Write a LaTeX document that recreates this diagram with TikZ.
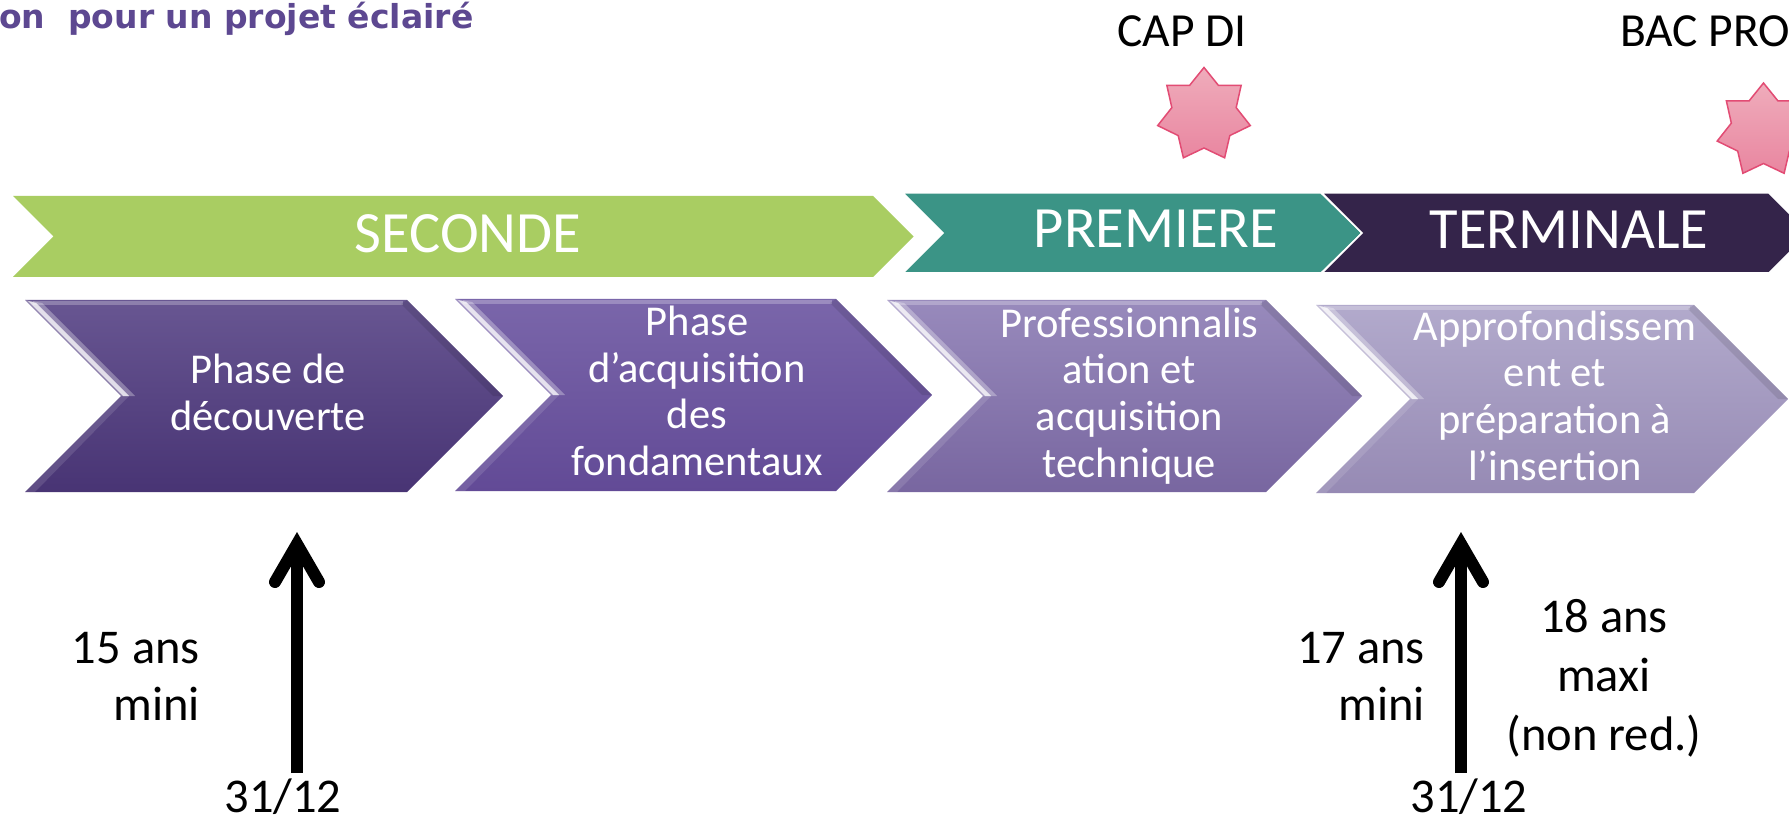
\documentclass[tikz,border=0pt]{standalone}
\usepackage{fontspec}
\setmainfont{Carlito}
\newfontfamily\titlefont{DejaVu Sans}
\usetikzlibrary{calc}
\definecolor{cgreen}{RGB}{169,205,98}
\definecolor{cteal}{RGB}{59,148,134}
\definecolor{cdark}{RGB}{52,36,74}
\definecolor{ctitle}{RGB}{93,72,145}
\definecolor{pAt}{RGB}{104,86,146}
\definecolor{pAb}{RGB}{72,52,116}
\definecolor{pBt}{RGB}{122,102,170}
\definecolor{pBb}{RGB}{98,74,150}
\definecolor{pCt}{RGB}{152,138,188}
\definecolor{pCb}{RGB}{120,102,160}
\definecolor{pDt}{RGB}{178,170,204}
\definecolor{pDb}{RGB}{150,138,180}
\definecolor{startop}{RGB}{239,172,187}
\definecolor{starbot}{RGB}{233,134,160}
\definecolor{starline}{RGB}{226,76,116}
\newcommand\ps{\rule[-0.25em]{0pt}{1em}}
% #1 x-left, #2 y-top, #3 width to tip, #4 height, #5 top colour, #6 bottom colour
\newcommand\chevron[6]{%
  \shade[top color=#5, bottom color=#6] (#1,#2) -- ++({#3-#4/2},0) -- ++({#4/2},{#4/2}) -- ++({-#4/2},{#4/2}) -- ++({-(#3-#4/2)},0) -- ++({#4/2},{-#4/2}) -- cycle;
  \fill[white,opacity=.3] (#1,#2) -- ++({#4/2},{#4/2}) -- ++(14,0) -- ++({-#4/2+3},{-#4/2+3}) -- cycle;
  \fill[white,opacity=.75] ({#1+3},{#2+1}) -- ++({#4/2-1},{#4/2-1}) -- ++(6,0) -- ++({-#4/2+3},{-#4/2+3}) -- cycle;
  \fill[white,opacity=.25] ({#1+8},{#2+1}) rectangle ({#1+#3-#4/2-4},{#2+5});
  \fill[black,opacity=.1] ({#1+#3-#4/2},#2) -- ({#1+#3},{#2+#4/2}) -- ++(-10,0) -- ({#1+#3-#4/2-6},{#2+4}) -- cycle;
  \fill[white,opacity=.12] ({#1+#4/2},{#2+#4/2}) -- (#1,{#2+#4}) -- ++(10,0) -- ({#1+#4/2+8},{#2+#4/2}) -- cycle;
}
\tikzset{
  banner/.style={text=white, font=\fontsize{58.5}{70}\selectfont, inner sep=0, anchor=base},
  phase/.style={text=white, font=\fontsize{42.5}{46.7}\selectfont, align=center, inner sep=0},
  lbl/.style={font=\fontsize{48.5}{57}\selectfont, inner sep=0},
  shaft/.style={line width=12pt, line cap=butt},
  headline/.style={line width=12pt, line cap=round, line join=miter},
  starstyle/.style={top color=startop, bottom color=starbot, draw=starline, line width=1.5pt}
}
\begin{document}
\begin{tikzpicture}[x=1pt,y=-1pt]
\fill[white] (0,0) rectangle (1789,818);
\useasboundingbox (0,0) rectangle (1789,818);
\clip (0,0) rectangle (1789,818);

% title
\node[anchor=base west, inner sep=0, text=ctitle, font=\titlefont\bfseries\fontsize{33}{40}\selectfont] (title) at (-1,29) {on\ \ pour un projet éclairé};

% stars and diplomas
\node[font=\fontsize{47.5}{57}\selectfont, anchor=base, inner sep=0] (cap) at (1182,47) {CAP DI};
\node[font=\fontsize{47.5}{57}\selectfont, anchor=base west, inner sep=0] (bac) at (1620,47) {BAC PRO};
\shade[starstyle, shift={(1204,115)}] plot[samples at={0,...,13}] ({-90+\x*25.7143}:{ifthenelse(mod(\x,2)==0,47.5,33)}) -- cycle;
\shade[starstyle, shift={(1763.5,130.5)}] plot[samples at={0,...,13}] ({-90+\x*25.7143}:{ifthenelse(mod(\x,2)==0,47.5,33)}) -- cycle;

% year banners
\fill[cgreen] (13,196) -- (873,196) -- (913.5,236.5) -- (873,277) -- (13,277) -- (53.5,236.5) -- cycle;
\path[fill=cteal, draw=white, line width=1.5pt] (903,193) -- (1321,193) -- (1362,233) -- (1321,273) -- (903,273) -- (943,233) -- cycle;
\path[fill=cdark, draw=white, line width=1.5pt] (1322,193) -- (1769,193) -- (1809,233) -- (1769,273) -- (1322,273) -- (1362,233) -- cycle;
\node[banner] (seconde) at (468,253) {SECONDE};
\node[banner] (premiere) at (1156,248) {PREMIERE};
\node[banner] (terminale) at (1569,249) {TERMINALE};

% phases
\chevron{25}{300}{478}{192}{pAt}{pAb}
\chevron{455}{299}{477}{192}{pBt}{pBb}
\chevron{887}{300}{475}{192}{pCt}{pCb}
\chevron{1316}{305}{472}{188}{pDt}{pDb}
\node[phase] (ph1) at (268,396.5) {\ps Phase de\\\ps découverte};
\node[phase] (ph2) at (697,395) {\ps Phase\\\ps d’acquisition\\\ps des\\\ps fondamentaux};
\node[phase] (ph3) at (1129.5,396.7) {\ps Professionnalis\\\ps ation et\\\ps acquisition\\\ps technique};
\node[phase] (ph4) at (1555,399.5) {\ps Approfondissem\\\ps ent et\\\ps préparation à\\\ps l’insertion};

% age labels
\node[lbl, align=right, anchor=east] (l15) at (200,679.7) {\ps 15 ans\\\ps mini};
\node[lbl, align=right, anchor=east] (l17) at (1425,679.7) {\ps 17 ans\\\ps mini};
\node[lbl, align=center, font=\fontsize{48.5}{59}\selectfont] (l18) at (1604,679) {\ps 18 ans\\\ps maxi\\\ps (non red.)};
\node[lbl, anchor=base] (d1) at (283,812) {31/12};
\node[lbl, anchor=base] (d2) at (1469,812) {31/12};

% arrows
\coordinate (a1b) at (297,773); \coordinate (a1t) at (297,544);
\coordinate (a1l) at (275,582); \coordinate (a1r) at (319,582);
\coordinate (a2b) at (1461,773); \coordinate (a2t) at (1461,544);
\coordinate (a2l) at (1439,582); \coordinate (a2r) at (1483,582);
\draw[shaft] (a1b) -- (a1t);
\draw[headline] (a1l) -- (a1t) -- (a1r);
\draw[shaft] (a2b) -- (a2t);
\draw[headline] (a2l) -- (a2t) -- (a2r);
\end{tikzpicture}
\end{document}
